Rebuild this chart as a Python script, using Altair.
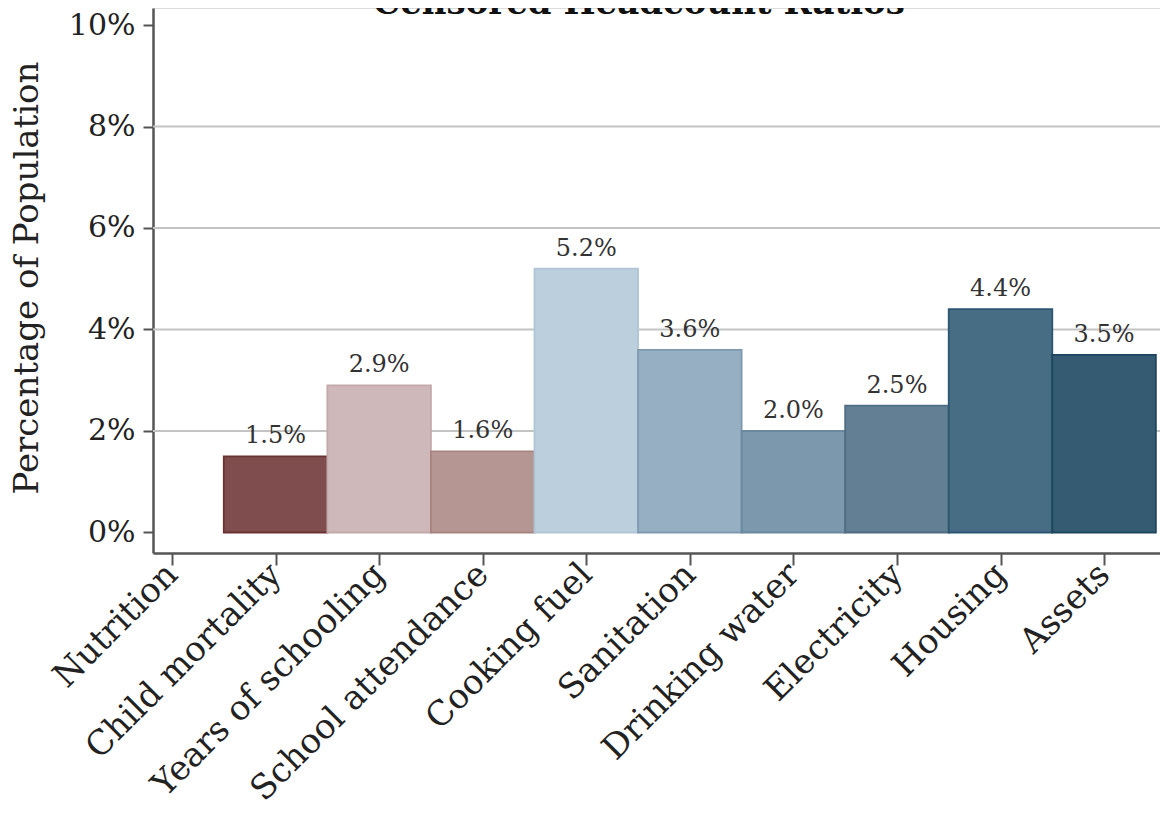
import altair as alt
import pandas as pd

categories = ["Nutrition", "Child mortality", "Years of schooling", "School attendance",
              "Cooking fuel", "Sanitation", "Drinking water", "Electricity", "Housing", "Assets"]
values = [None, 1.5, 2.9, 1.6, 5.2, 3.6, 2.0, 2.5, 4.4, 3.5]
fill_colors = ["#ffffff", "#7f4d4d", "#cfb8ba", "#b69693", "#bccfdd", "#97afc3",
               "#7b98ad", "#637f93", "#466d84", "#345b71"]
stroke_colors = ["#ffffff", "#6a3333", "#c4a9ab", "#a8847f", "#b0c6d6", "#7f9ab0",
                 "#6a889e", "#4f6c82", "#2b5570", "#1d465e"]
y_ticks = [0, 2, 4, 6, 8, 10]
grid_values = [2, 4, 6, 8]
title_text = "Censored Headcount Ratios"
y_title = "Percentage of Population"

FONT = "DejaVu Serif"
W, H = 1007, 545

df = pd.DataFrame({
    "idx": list(range(1, len(categories) + 1)),
    "cat": categories,
    "value": values,
})

label_expr = "[" + ",".join("'" + c + "'" for c in categories) + "][datum.value - 1]"

x_scale = alt.Scale(domain=[0.8165, 10.540], nice=False, zero=False)
y_scale = alt.Scale(domain=[-0.404, 10.335], nice=False, zero=False)

x_axis = alt.Axis(values=list(range(1, len(categories) + 1)), labelExpr=label_expr,
                  title=None, grid=False, labelAngle=-45, labelAlign="right",
                  labelBaseline="middle", labelFont=FONT, labelFontSize=34,
                  labelColor="#222", labelPadding=4, tickSize=12, tickWidth=2,
                  tickColor="#555", domainColor="#555", domainWidth=2.5,
                  labelOverlap=False, labelFlush=False, labelBound=False, labelLimit=0)
y_axis = alt.Axis(values=y_ticks, labelExpr="datum.value + '%'", title=None,
                  grid=False, labelFont=FONT, labelFontSize=30, labelColor="#222",
                  labelPadding=8, tickSize=10, tickWidth=2, tickColor="#555",
                  domainColor="#555", domainWidth=2.5, orient="left",
                  labelOverlap=False, labelFlush=False, labelBound=False, labelLimit=0)

base = alt.Chart(df).transform_filter("isValid(datum.value)").transform_calculate(
    x0="datum.idx - 0.5", x1="datum.idx + 0.5", lab="format(datum.value, '.1f') + '%'"
)

bars = base.mark_bar(strokeWidth=1.8, opacity=1).encode(
    x=alt.X("x0:Q", scale=x_scale, axis=x_axis),
    x2="x1:Q",
    y=alt.Y("value:Q", scale=y_scale, axis=y_axis),
    y2=alt.datum(0),
    color=alt.Color("cat:N", scale=alt.Scale(domain=categories, range=fill_colors), legend=None),
    stroke=alt.Stroke("cat:N", scale=alt.Scale(domain=categories, range=stroke_colors), legend=None),
)

grid = alt.Chart(pd.DataFrame({"value": grid_values})).mark_rule(
    color="#c4c4c4", strokeWidth=2
).encode(
    y=alt.Y("value:Q", scale=y_scale, axis=y_axis),
    x=alt.value(0), x2=alt.value(W),
)

labels = base.mark_text(font=FONT, fontSize=24, color="#333", baseline="alphabetic",
                        align="center", dy=-13).encode(
    x=alt.X("idx:Q", scale=x_scale, axis=x_axis),
    y=alt.Y("value:Q", scale=y_scale, axis=y_axis),
    text="lab:N",
)

title = alt.Chart(pd.DataFrame({"t": [title_text]})).mark_text(
    font=FONT, fontSize=34, fontWeight="bold", color="#111", align="center", baseline="alphabetic"
).encode(x=alt.value(486), y=alt.value(6), text="t:N")

ytitle = alt.Chart(pd.DataFrame({"t": [y_title]})).mark_text(
    font=FONT, fontSize=34, color="#222", align="center", baseline="middle", angle=270
).encode(x=alt.value(-125), y=alt.value(270), text="t:N")

chart = alt.layer(grid, bars, labels, title, ytitle).properties(
    width=W, height=H,
    autosize=alt.AutoSizeParams(type="none"),
    padding={"left": 145, "top": 0, "right": 0, "bottom": 255},
).configure_view(stroke=None).configure(background="white")

chart.save("out.html", embed_options={"renderer": "svg", "actions": False})
